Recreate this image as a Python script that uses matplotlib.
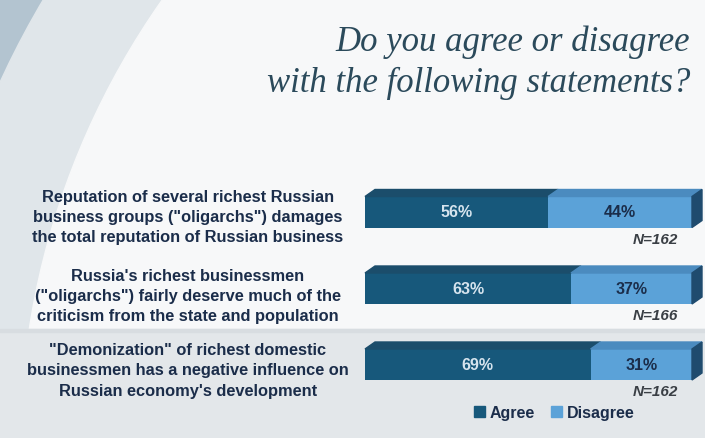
import matplotlib.pyplot as plt
from matplotlib.patches import Polygon, Circle, Rectangle

# data
statements = [
    'Reputation of several richest Russian\nbusiness groups ("oligarchs") damages\nthe total reputation of Russian business',
    'Russia\'s richest businessmen\n("oligarchs") fairly deserve much of the\ncriticism from the state and population',
    '"Demonization" of richest domestic\nbusinessmen has a negative influence on\nRussian economy\'s development',
]
agree = [56, 63, 69]
disagree = [44, 37, 31]
n_labels = ['N=162', 'N=166', 'N=162']
title = 'Do you agree or disagree\nwith the following statements?'

W, H = 705, 439
c_agree = '#17587b'
c_disagree = '#5ba2d8'
c_text = '#1b2d4a'

fig = plt.figure(figsize=(W / 100, H / 100), dpi=100)

# background axes in pixel units
bg = fig.add_axes([0, 0, 1, 1])
bg.set_xlim(0, W)
bg.set_ylim(H, 0)
bg.axis('off')
bg.add_patch(Rectangle((0, 0), W, H, color='#b3c4d0', zorder=0))
bg.add_patch(Circle((800, 450), 880, color='#e0e6ea', zorder=0.1))
bg.add_patch(Circle((800, 450), 780, color='#f7f8f9', zorder=0.2))
bg.add_patch(Rectangle((0, 330), W, H - 330, color='#e3e7ea', zorder=0.3))
bg.add_patch(Rectangle((0, 330), W, 3, color='#d8dde1', zorder=0.31))

bg.text(690, 63, title, ha='right', va='center', fontsize=25, style='italic',
        family='Liberation Serif', color='#2b4a5b', linespacing=1.32)

# bars: x in percent, y in pixels
bar_left, bar_right = 365, 692
centers = [213, 289.5, 365.5]
bar_h = 31
depth_x, depth_y = 10, 7

ax = fig.add_axes([bar_left / W, 0, (bar_right - bar_left) / W, 1])
ax.set_xlim(0, 100)
ax.set_ylim(H, 0)
ax.axis('off')

dx = depth_x * 100 / (bar_right - bar_left)
ax.barh(centers, agree, height=bar_h, color=c_agree, zorder=2)
ax.barh(centers, disagree, left=agree, height=bar_h, color=c_disagree, zorder=2)

for i, y in enumerate(centers):
    top = y - bar_h / 2
    bot = y + bar_h / 2
    a = agree[i]
    ax.add_patch(Polygon([(0, top), (dx, top - depth_y), (a + dx, top - depth_y), (a, top)],
                         closed=True, color='#1b4d6b', zorder=2, clip_on=False))
    ax.add_patch(Polygon([(a, top), (a + dx, top - depth_y), (100 + dx, top - depth_y), (100, top)],
                         closed=True, color='#4b8bbf', zorder=2, clip_on=False))
    ax.add_patch(Polygon([(100, top), (100 + dx, top - depth_y), (100 + dx, bot - depth_y), (100, bot)],
                         closed=True, color='#1f4b6e', zorder=2, clip_on=False))
    ax.text(a / 2, y, f'{agree[i]}%', ha='center', va='center', fontsize=11.5,
            fontweight='bold', color='#d6e4ee', family='Liberation Sans', zorder=3)
    ax.text(a + disagree[i] / 2, y, f'{disagree[i]}%', ha='center', va='center', fontsize=11.5,
            fontweight='bold', color=c_text, family='Liberation Sans', zorder=3)
    ax.text(95.8, y + 27, n_labels[i], ha='right', va='center', fontsize=11,
            fontweight='bold', style='italic', color='#3a3f45', family='Liberation Sans', zorder=3)

# statement labels
label_y = [217.5, 296.5, 371]
for s, y in zip(statements, label_y):
    bg.text(188, y, s, ha='center', va='center', fontsize=11.8, fontweight='bold',
            color=c_text, family='Liberation Sans', linespacing=1.42, zorder=3)

# legend
h1 = Rectangle((0, 0), 1, 1, color=c_agree)
h2 = Rectangle((0, 0), 1, 1, color=c_disagree)
leg = bg.legend([h1, h2], ['Agree', 'Disagree'], loc='center', bbox_to_anchor=(554, 414),
                bbox_transform=bg.transData, ncol=2, frameon=False, handlelength=0.7,
                handleheight=0.7, handletextpad=0.3, columnspacing=1.0,
                prop={'family': 'Liberation Sans', 'weight': 'bold', 'size': 11.5})
for t in leg.get_texts():
    t.set_color(c_text)

fig.savefig('out.png', dpi=100)
